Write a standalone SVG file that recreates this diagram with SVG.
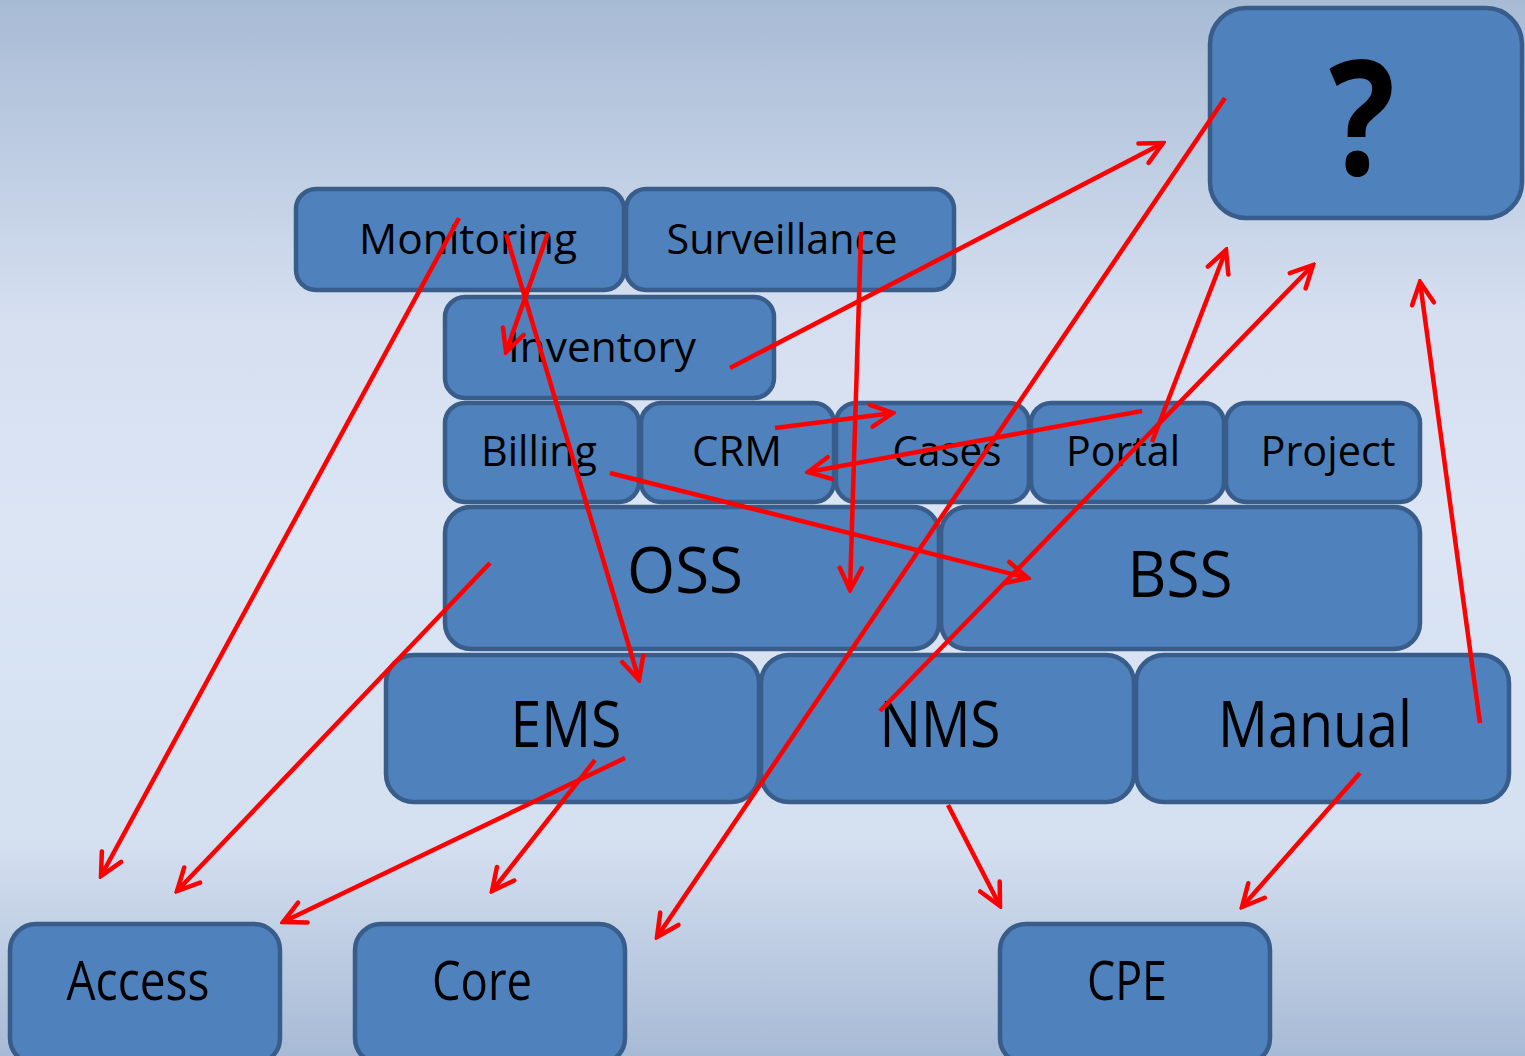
<svg xmlns="http://www.w3.org/2000/svg" width="1525" height="1056" viewBox="0 0 1525 1056">
<defs>
<linearGradient id="bg" x1="0" y1="0" x2="0" y2="1">
<stop offset="0" stop-color="#a8bbd5"/>
<stop offset="0.3" stop-color="#d5dff0"/>
<stop offset="0.5" stop-color="#dbe5f4"/>
<stop offset="0.8" stop-color="#d4dff0"/>
<stop offset="1" stop-color="#a7bad5"/>
</linearGradient>
<marker id="ah" viewBox="0 0 28 28" refX="25" refY="14" markerWidth="28" markerHeight="28" markerUnits="userSpaceOnUse" orient="auto">
<path d="M3,3 L25,14 L3,25" fill="none" stroke="#ff0000" stroke-width="4.5" stroke-linecap="round" stroke-linejoin="miter"/>
</marker>
</defs>
<style>
.b{fill:#4f81bd;stroke:#385d8a;stroke-width:4.5}
.t{font-family:"Open Sans","Noto Sans",sans-serif;fill:#000;text-anchor:middle}
.s{font-size:42px}
.l{font-size:64px}
.m{font-size:54px}
.c line{stroke:#ff0000;stroke-width:4.5;marker-end:url(#ah)}
</style>
<rect width="1525" height="1056" fill="url(#bg)"/>
<g id="node-q"><rect class="b" x="1210" y="8" width="312" height="210" rx="36"/><text class="t" x="1362" y="175" font-size="160" font-weight="bold" textLength="66" lengthAdjust="spacingAndGlyphs">?</text></g>
<g id="node-monitoring"><rect class="b" x="296" y="189" width="328" height="101" rx="20"/><text class="t s" x="468" y="254" textLength="218" lengthAdjust="spacingAndGlyphs">Monitoring</text></g>
<g id="node-surveillance"><rect class="b" x="626" y="189" width="328" height="101" rx="20"/><text class="t s" x="782" y="254" textLength="231" lengthAdjust="spacingAndGlyphs">Surveillance</text></g>
<g id="node-inventory"><rect class="b" x="445" y="297" width="329" height="101" rx="20"/><text class="t s" x="602" y="362" textLength="188" lengthAdjust="spacingAndGlyphs">Inventory</text></g>
<g id="node-billing"><rect class="b" x="445" y="403" width="194" height="99" rx="20"/><text class="t s" x="539" y="466" textLength="116" lengthAdjust="spacingAndGlyphs">Billing</text></g>
<g id="node-crm"><rect class="b" x="641" y="403" width="193" height="99" rx="20"/><text class="t s" x="737" y="466" textLength="90" lengthAdjust="spacingAndGlyphs">CRM</text></g>
<g id="node-cases"><rect class="b" x="836" y="403" width="193" height="99" rx="20"/><text class="t s" x="947" y="466" textLength="109" lengthAdjust="spacingAndGlyphs">Cases</text></g>
<g id="node-portal"><rect class="b" x="1031" y="403" width="193" height="99" rx="20"/><text class="t s" x="1123" y="466" textLength="114" lengthAdjust="spacingAndGlyphs">Portal</text></g>
<g id="node-project"><rect class="b" x="1226" y="403" width="194" height="99" rx="20"/><text class="t s" x="1328" y="466" textLength="135" lengthAdjust="spacingAndGlyphs">Project</text></g>
<g id="node-oss"><rect class="b" x="445" y="507" width="494" height="142" rx="26"/><text class="t l" x="685" y="593" textLength="116" lengthAdjust="spacingAndGlyphs">OSS</text></g>
<g id="node-bss"><rect class="b" x="941" y="507" width="479" height="142" rx="26"/><text class="t l" x="1180" y="597" textLength="105" lengthAdjust="spacingAndGlyphs">BSS</text></g>
<g id="node-ems"><rect class="b" x="386" y="655" width="373" height="147" rx="28"/><text class="t l" x="566" y="747" textLength="111" lengthAdjust="spacingAndGlyphs">EMS</text></g>
<g id="node-nms"><rect class="b" x="761" y="655" width="373" height="147" rx="28"/><text class="t l" x="940" y="747" textLength="121" lengthAdjust="spacingAndGlyphs">NMS</text></g>
<g id="node-manual"><rect class="b" x="1136" y="655" width="373" height="147" rx="28"/><text class="t l" x="1315" y="747" textLength="194" lengthAdjust="spacingAndGlyphs">Manual</text></g>
<g id="node-access"><rect class="b" x="10" y="924" width="270" height="140" rx="26"/><text class="t m" x="138" y="1000" textLength="143" lengthAdjust="spacingAndGlyphs">Access</text></g>
<g id="node-core"><rect class="b" x="355" y="924" width="270" height="140" rx="26"/><text class="t m" x="482" y="1000" textLength="100" lengthAdjust="spacingAndGlyphs">Core</text></g>
<g id="node-cpe"><rect class="b" x="1000" y="924" width="270" height="140" rx="26"/><text class="t m" x="1127" y="1000" textLength="80" lengthAdjust="spacingAndGlyphs">CPE</text></g>
<g id="connectors" class="c">
<line x1="459" y1="218" x2="101" y2="876"/>
<line x1="506" y1="234" x2="639" y2="680"/>
<line x1="548" y1="233" x2="506" y2="352"/>
<line x1="730" y1="368" x2="1163" y2="143"/>
<line x1="861" y1="232" x2="850" y2="590"/>
<line x1="775" y1="428" x2="893" y2="413"/>
<line x1="1142" y1="411" x2="808" y2="472"/>
<line x1="610" y1="473" x2="1028" y2="578"/>
<line x1="880" y1="711" x2="1313" y2="265"/>
<line x1="1152" y1="442" x2="1226" y2="250"/>
<line x1="1225" y1="98" x2="657" y2="937"/>
<line x1="490" y1="563" x2="177" y2="891"/>
<line x1="625" y1="758" x2="283" y2="922"/>
<line x1="595" y1="760" x2="492" y2="891"/>
<line x1="948" y1="805" x2="1000" y2="906"/>
<line x1="1360" y1="773" x2="1242" y2="907"/>
<line x1="1480" y1="723" x2="1420" y2="282"/>
</g>
</svg>
